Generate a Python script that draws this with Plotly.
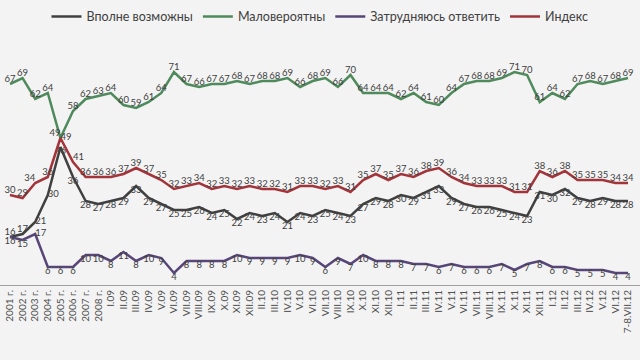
import plotly.graph_objects as go

labels = ["2001 г.", "2002 г.", "2003 г.", "2004 г.", "2005 г.", "2006 г.", "2007 г.", "2008 г.",
          "I.09", "II.09", "III.09", "IV.09", "V.09", "VI.09", "VII.09", "VIII.09", "IX.09", "X.09", "XI.09", "XII.09",
          "II.10", "III.10", "IV.10", "V.10", "VI.10", "VII.10", "VIII.10", "IX.10", "X.10", "XI.10", "XII.10",
          "I.11", "II.11", "III.11", "IV.11", "V.11", "VI.11", "VII.11", "VIII.11", "IX.11", "X.11", "XI.11", "XII.11",
          "I.12", "II.12", "III.12", "IV.12", "V.12", "VI.12", "7-8.VII.12"]

vpolne = [16, 17, 21, 30, 46, 36, 28, 27, 28, 29, 33, 29, 27, 25, 25, 26, 24,
          25, 22, 24, 23, 24, 21, 24, 23, 25, 24, 23, 27, 29, 28, 30, 29,
          31, 33, 29, 27, 26, 26, 25, 24, 23, 31, 30, 32, 29, 28, 29, 28, 28]
malo = [67, 69, 62, 64, 49, 58, 62, 63, 64, 60, 59, 61, 64, 71, 67, 66, 67,
        67, 68, 67, 68, 68, 69, 66, 68, 69, 66, 70, 64, 64, 64, 62, 64,
        61, 60, 64, 67, 68, 68, 69, 71, 70, 61, 64, 62, 67, 68, 67, 68, 69]
zatr = [16, 15, 17, 6, 6, 6, 10, 10, 8, 11, 8, 10, 9, 4, 8, 8, 8,
        8, 10, 9, 9, 9, 9, 10, 9, 6, 9, 7, 10, 8, 8, 8, 7,
        7, 6, 7, 6, 6, 6, 7, 5, 7, 8, 6, 6, 5, 5, 5, 4, 4]
index = [30, 29, 34, 36, 49, 41, 36, 36, 36, 37, 39, 37, 35, 32, 33, 34, 32,
         33, 32, 33, 32, 32, 31, 33, 33, 32, 33, 31, 35, 37, 35, 37, 36,
         38, 39, 36, 34, 33, 33, 33, 31, 31, 38, 36, 38, 35, 35, 35, 34, 34]

n = len(labels)
pos_vpolne = ["bottom center"] * n
pos_vpolne[0] = "top center"
pos_vpolne[1] = "top center"
pos_vpolne[2] = "middle right"
pos_vpolne[3] = "middle right"
pos_malo = ["top center"] * n
pos_malo[4] = "top left"
pos_zatr = ["bottom center"] * n
pos_zatr[2] = "middle right"
pos_index = ["top center"] * n
pos_index[2] = "top left"
pos_index[4] = "middle right"
pos_index[5] = "top right"

series = [
    ("Вполне возможны", vpolne, "#404040", pos_vpolne),
    ("Маловероятны", malo, "#4e8a5b", pos_malo),
    ("Затрудняюсь ответить", zatr, "#574677", pos_zatr),
    ("Индекс", index, "#a3343a", pos_index),
]

fig = go.Figure()
for name, vals, color, tpos in series:
    fig.add_trace(go.Scatter(
        x=labels, y=vals, name=name, mode="lines+text",
        line=dict(color=color, width=2.5),
        text=[str(v) for v in vals], textposition=tpos,
        textfont=dict(family="Lato", size=9.5, color="#404040"),
        cliponaxis=False,
    ))

fig.update_layout(
    width=640, height=360,
    margin=dict(l=0, r=0, t=45, b=75),
    paper_bgcolor="#f3f3f3", plot_bgcolor="#f3f3f3",
    font=dict(family="Lato", color="#404040"),
    showlegend=True,
    legend=dict(orientation="h", x=0.5, xanchor="center", y=0.995, yanchor="top",
                yref="container", font=dict(size=12.5, color="#404040"),
                bgcolor="rgba(0,0,0,0)", itemwidth=30, tracegroupgap=0),
    xaxis=dict(type="category", range=[-0.79, 49.95], tickangle=-90,
               tickfont=dict(family="Lato", size=10, color="#505050"),
               showgrid=False, showline=True, linecolor="#a0a0a0", linewidth=1,
               ticks="", zeroline=False),
    yaxis=dict(range=[0, 80], visible=False, showgrid=False, zeroline=False),
)

fig.write_html("out.html", config={"displayModeBar": False},
               post_script="document.body.style.margin='0';document.body.style.background='#f3f3f3';")
